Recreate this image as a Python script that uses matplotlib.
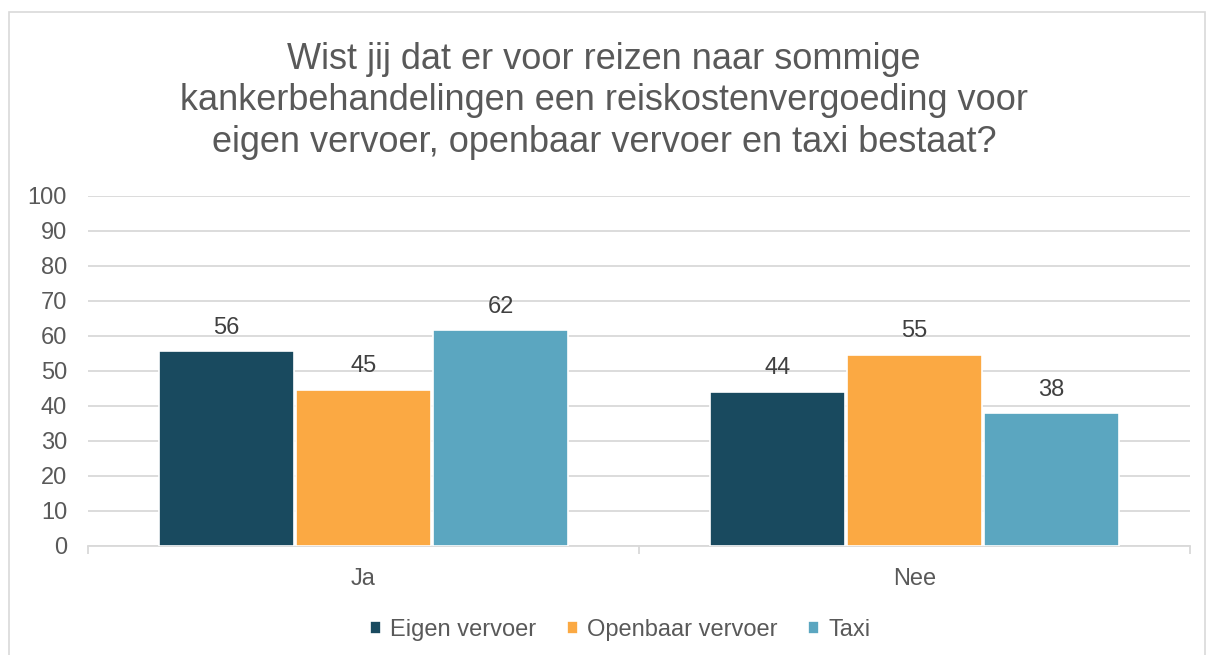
import matplotlib.pyplot as plt
from matplotlib.patches import Rectangle
import numpy as np

plt.rcParams['font.family'] = ['Liberation Sans', 'DejaVu Sans']

# Data
categories = ['Ja', 'Nee']
series = ['Eigen vervoer', 'Openbaar vervoer', 'Taxi']
eigen = [55.6, 43.9]
openbaar = [44.6, 54.6]
taxi = [61.5, 37.8]
colors = ['#194a5f', '#fba943', '#5ba6c0']

text_col = '#595959'
grid_col = '#d9d9d9'

fig = plt.figure(figsize=(12.08, 6.55), dpi=100)
ax = fig.add_axes([0.0728, 0.1669, 0.9122, 0.5343])

x = np.arange(len(categories))
width = 0.245
for i, (name, vals) in enumerate(zip(series, [eigen, openbaar, taxi])):
    pos = x + (i - 1) * 0.249
    bars = ax.bar(pos, vals, width, color=colors[i], label=name,
                  edgecolor='white', linewidth=1.2, zorder=3)
    for b, v in zip(bars, vals):
        ax.text(b.get_x() + b.get_width() / 2, v + 3.6, f'{v:.0f}',
                ha='center', va='bottom', fontsize=17, color='#404040')

ax.set_xlim(-0.5, 1.5)
ax.set_ylim(0, 100)
ax.set_yticks(range(0, 101, 10))
ax.grid(axis='y', color=grid_col, linewidth=1.3, zorder=0)
for s in ['top', 'right', 'left']:
    ax.spines[s].set_visible(False)
ax.spines['bottom'].set_color(grid_col)
ax.spines['bottom'].set_linewidth(1.3)
ax.tick_params(axis='y', length=0, labelsize=17, labelcolor=text_col, pad=15)
ax.set_xticks(x)
ax.set_xticklabels(categories)
ax.tick_params(axis='x', length=0, labelsize=17, labelcolor=text_col, pad=16)
ax.set_xticks([-0.5, 0.5, 1.5], minor=True)
ax.tick_params(axis='x', which='minor', length=6, color=grid_col, width=1.3)

fig.text(0.5, 0.846, 'Wist jij dat er voor reizen naar sommige\n'
         'kankerbehandelingen een reiskostenvergoeding voor\n'
         'eigen vervoer, openbaar vervoer en taxi bestaat?',
         ha='center', va='center', fontsize=26, color=text_col, linespacing=1.24)

ax.legend(loc='center', bbox_to_anchor=(0.483, -0.24), ncol=3, frameon=False,
          fontsize=17, labelcolor=text_col, handlelength=0.45, handleheight=0.45,
          handletextpad=0.4, columnspacing=1.3)

fig.patches.append(Rectangle((9 / 1208, -0.02), 1196 / 1208, 1 - 12 / 655 + 0.02,
                             transform=fig.transFigure, fill=False,
                             edgecolor=grid_col, linewidth=1.2))

fig.savefig('out.png', dpi=100)
